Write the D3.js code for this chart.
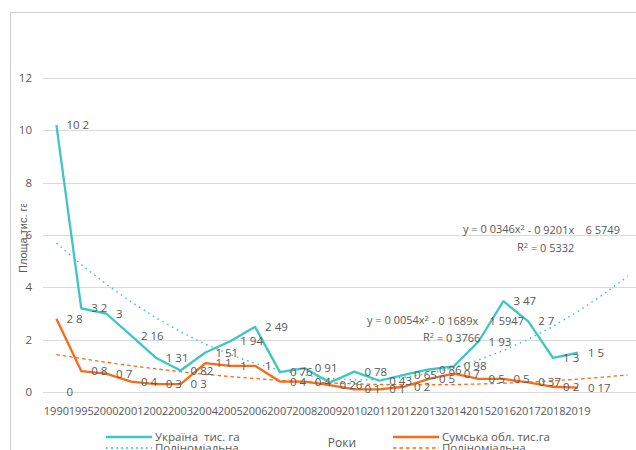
<!DOCTYPE html>
<html><head><meta charset="utf-8">
<script src="https://cdn.jsdelivr.net/npm/d3@7"></script>
<style>body{margin:0;background:#fff}svg{display:block}text{font-family:"Open Sans",sans-serif;fill:#595959;white-space:pre}</style>
</head><body><svg id="c" width="636" height="450"></svg>
<script>
const years = ["1990","1995","2000","2001","2002","2003","2004","2005","2006","2007","2008","2009","2010","2011","2012","2013","2014","2015","2016","2017","2018","2019"];
const forecastSlots = ["f1","f2"];
const ukraine = [10.2,3.2,3.0,2.16,1.31,0.82,1.51,1.94,2.49,0.76,0.91,0.36,0.78,0.43,0.65,0.86,0.98,1.93,3.47,2.7,1.3,1.5];
const sumy = [2.8,0.8,0.7,0.4,0.3,0.3,1.1,1.0,1.0,0.4,0.4,0.26,0.1,0.1,0.2,0.5,0.7,0.5,0.5,0.37,0.2,0.17];
const hiddenUkraineLabels = ["2009"];
const extraLabels = [{cat:"1990", value:0, text:"0"}];
const ukraineTrend = [0.0346,-0.9201,6.5749];
const sumyTrend = [0.0054,-0.1689,1.5947];
const ukraineEq = ["y = 0 0346x", "2", " - 0 9201x    6 5749"];
const ukraineR2 = "0 5332";
const sumyEq = ["y = 0 0054x", "2", " - 0 1689x    1 5947"];
const sumyR2 = "0 3766";
const yTicks = [0,2,4,6,8,10,12];
const seriesNames = ["Україна  тис. га","Сумська обл. тис.га"];
const trendName = "Поліноміальна";
const xTitle = "Роки", yTitle = "Площа,тис. га";

const teal = "#3ec6c6", orange = "#fb6a14";
const svg = d3.select("#c");
svg.append("rect").attr("width",636).attr("height",450).attr("fill","#fff");
svg.append("rect").attr("x",10.5).attr("y",12.5).attr("width",640).attr("height",450)
  .attr("fill","none").attr("stroke","#cfcfcf");

const x = d3.scaleBand().domain(years.concat(forecastSlots)).range([44,640]);
const y = d3.scaleLinear().domain([0,12]).range([392,78]);
const cx = c => x(c) + x.bandwidth()/2;
const fmt = v => String(v).replace(".", " ");

// gridlines
svg.append("g").selectAll("line").data(yTicks).join("line")
  .attr("x1",43).attr("x2",636).attr("y1",d=>Math.round(y(d))+0.5).attr("y2",d=>Math.round(y(d))+0.5)
  .attr("stroke","#d9d9d9").attr("stroke-width",1.2);
// y tick labels
svg.append("g").selectAll("text").data(yTicks).join("text")
  .attr("x",32).attr("y",d=>y(d)).attr("dy","0.35em").attr("text-anchor","end")
  .style("font-size","11.5px").text(d=>d);
// x tick labels
svg.append("g").selectAll("text").data(years).join("text")
  .attr("x",d=>cx(d)).attr("y",411).attr("dy","0.35em").attr("text-anchor","middle")
  .style("font-size","11px").text(d=>d);

// y title
svg.append("defs").append("clipPath").attr("id","yt").append("rect").attr("x",0).attr("y",204).attr("width",40).attr("height",200);
svg.append("g").attr("clip-path","url(#yt)").append("text")
  .attr("transform","translate(27,273) rotate(-90)")
  .style("font-family","'Liberation Sans',Arial,sans-serif").style("font-size","11px")
  .text(yTitle);

// trend lines
const all = years.concat(forecastSlots);
const trendPts = c => all.map((cat,i)=>({cat, v:c[0]*(i+1)*(i+1)+c[1]*(i+1)+c[2]}));
const tl = d3.line().x(d=>cx(d.cat)).y(d=>y(d.v));
svg.append("path").attr("d",tl(trendPts(ukraineTrend))).attr("fill","none")
  .attr("stroke",teal).attr("stroke-width",1.5).attr("stroke-dasharray","1.5,4");
svg.append("path").attr("d",tl(trendPts(sumyTrend))).attr("fill","none")
  .attr("stroke",orange).attr("stroke-width",1.3).attr("stroke-dasharray","3.5,3");

// series lines
const line = d3.line().x((d,i)=>cx(years[i])).y(d=>y(d));
svg.append("path").attr("d",line(ukraine)).attr("fill","none").attr("stroke",teal).attr("stroke-width",2.3).attr("stroke-linejoin","round");
svg.append("path").attr("d",line(sumy)).attr("fill","none").attr("stroke",orange).attr("stroke-width",2.3).attr("stroke-linejoin","round");

// data labels
const lab = (data, skip) => svg.append("g").selectAll("text")
  .data(data.map((v,i)=>({cat:years[i],v})).filter(d=>!skip.includes(d.cat))).join("text")
  .attr("x",d=>cx(d.cat)+10).attr("y",d=>y(d.v)).attr("dy","0.35em")
  .style("font-size","11.5px").text(d=>fmt(d.v));
lab(ukraine, hiddenUkraineLabels);
lab(sumy, []);
svg.append("g").selectAll("text").data(extraLabels).join("text")
  .attr("x",d=>cx(d.cat)+10).attr("y",d=>y(d.value)).attr("dy","0.35em")
  .style("font-size","11.5px").text(d=>d.text);

// equations
function eq(parts, r2, xr, yEq, xR2, yR2){
  const t = svg.append("text").attr("x",xr).attr("y",yEq).attr("dy","0.35em").style("font-size","11px");
  t.append("tspan").text(parts[0]);
  t.append("tspan").attr("dy","-0.4em").style("font-size","7.5px").text(parts[1]);
  t.append("tspan").attr("dy","0.4em").text(parts[2]);
  const r = svg.append("text").attr("x",xR2).attr("y",yR2).attr("dy","0.35em").style("font-size","11px");
  r.append("tspan").text("R");
  r.append("tspan").attr("dy","-0.4em").style("font-size","7.5px").text("2");
  r.append("tspan").attr("dy","0.4em").text(" = " + r2);
}
eq(ukraineEq, ukraineR2, 463, 229, 517, 247);
eq(sumyEq, sumyR2, 367, 320, 423, 337);

// legend
const lg = svg.append("g");
const leg = [
  {x:106, y:437, c:teal, dash:null, t:seriesNames[0]},
  {x:106, y:448, c:teal, dash:"2,3", t:trendName},
  {x:393, y:437, c:orange, dash:null, t:seriesNames[1]},
  {x:393, y:448, c:orange, dash:"3.5,3", t:trendName}
];
leg.forEach(d=>{
  lg.append("line").attr("x1",d.x).attr("x2",d.x+46).attr("y1",d.y).attr("y2",d.y)
    .attr("stroke",d.c).attr("stroke-width",d.dash?1.3:2.6).attr("stroke-dasharray",d.dash);
  lg.append("text").attr("x",d.x+49).attr("y",d.y).attr("dy","0.35em").style("font-size","11.5px").text(d.t);
});
svg.append("text").attr("x",342).attr("y",443).attr("dy","0.35em").attr("text-anchor","middle").style("font-size","12px").text(xTitle);
</script></body></html>
